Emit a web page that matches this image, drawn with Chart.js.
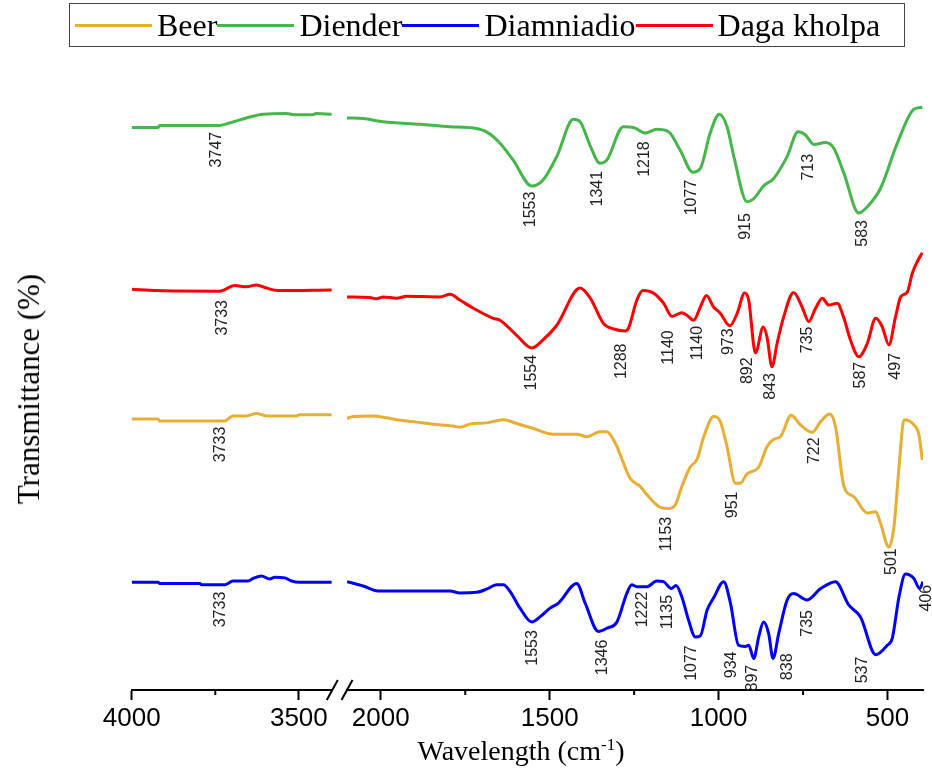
<!DOCTYPE html>
<html>
<head>
<meta charset="utf-8">
<title>FTIR spectra</title>
<script src="https://cdn.jsdelivr.net/npm/chart.js@4.4.1/dist/chart.umd.min.js"></script>
<style>
  html, body { margin: 0; padding: 0; background: #fff; }
  #wrap { position: relative; width: 932px; height: 776px; overflow: hidden; }
  #wrap canvas { position: absolute; left: 0; top: 0; }
  #legend {
    position: absolute; left: 69px; top: 3px; width: 836px; height: 44px;
    box-sizing: border-box; border: 1.5px solid #444;
    display: flex; align-items: center; padding-left: 5px;
    font: 32px "Liberation Serif", "Times New Roman", serif; line-height: 1;
    color: #000; white-space: nowrap;
  }
  #legend .sw { display: inline-block; width: 77px; height: 3px; margin-right: 5px; }
  #ytitle {
    position: absolute; left: 29px; top: 389px;
    transform: translate(-50%, -50%) rotate(-90deg);
    font: 31px "Liberation Serif", "Times New Roman", serif; white-space: nowrap;
  }
  #xtitle {
    position: absolute; left: 521px; top: 751px; transform: translate(-50%, -50%);
    font: 28px "Liberation Serif", "Times New Roman", serif; white-space: nowrap;
  }
  #xtitle sup { font-size: 17px; line-height: 0; vertical-align: 10px; }
</style>
</head>
<body>
<div id="wrap">
  <canvas id="leftChart" width="932" height="776"></canvas>
  <canvas id="rightChart" width="932" height="776"></canvas>
  <div id="legend"></div>
  <div id="ytitle">Transmittance (%)</div>
  <div id="xtitle">Wavelength (cm<sup>-1</sup>)</div>
</div>
<script>
  "use strict";

  // series, in legend order
  const seriesNames = ["Beer", "Diender", "Diamniadio", "Daga kholpa"];
  const seriesColors = ["#E8AD33", "#45B649", "#0000FF", "#FF0000"];

  // x axis: broken at 3400 / 2100 cm-1
  const leftRange = [3400, 4000];
  const rightRange = [395, 2100];
  const majorTicks = [4000, 3500, 2000, 1500, 1000, 500];
  const minorTicks = [3750, 1750, 1250, 750];

  // Beer (offset transmittance)
  const beerWn = [4000, 3921, 3916, 3722, 3697, 3657, 3627, 3597, 3508, 3498, 3402,
    2100, 2082, 2023, 1983, 1953, 1904, 1845, 1786, 1766, 1736, 1687, 1637, 1598, 1548, 1489,
    1420, 1390, 1351, 1331, 1306, 1262, 1232, 1212, 1173, 1148, 1128, 1109, 1084, 1064, 1044,
    1015, 995, 975, 950, 936, 916, 881, 857, 837, 817, 785, 758, 723, 698, 671, 654, 629, 600,
    560, 535, 521, 496, 481, 466, 451, 422, 407, 397];
  const beerT = [43.0, 43.0, 42.7, 42.7, 43.5, 43.5, 43.9, 43.5, 43.5, 43.7, 43.7,
    43.1, 43.4, 43.5, 43.2, 42.9, 42.6, 42.2, 41.9, 41.7, 42.2, 42.4, 42.9, 42.3, 41.5, 40.6,
    40.6, 40.2, 41.0, 41.0, 39.2, 33.6, 32.3, 31.0, 29.0, 28.8, 29.4, 32.3, 35.4, 36.6, 40.2,
    43.4, 42.6, 38.6, 32.8, 32.8, 34.3, 35.4, 38.6, 39.8, 40.2, 43.6, 42.1, 40.9, 42.6, 43.8, 41.8, 32.3, 30.7,
    28.1, 28.3, 26.5, 22.7, 25.9, 35.4, 42.9, 42.1, 40.5, 36.5];

  // Diender
  const dienderWn = [4000, 3921, 3916, 3742, 3707, 3657, 3607, 3538, 3508, 3459, 3448, 3402,
    2100, 2052, 1993, 1884, 1795, 1726, 1687, 1647, 1608, 1553, 1519, 1479, 1430, 1410, 1381,
    1351, 1331, 1282, 1252, 1217, 1183, 1148, 1114, 1076, 1054, 1025, 998, 975, 955, 916, 896,
    867, 837, 797, 765, 743, 718, 684, 659, 629, 585, 560, 521, 471, 422, 397];
  const dienderT = [89.3, 89.3, 89.6, 89.6, 90.0, 90.8, 91.4, 91.5, 91.3, 91.3, 91.5, 91.4,
    90.8, 90.7, 90.2, 89.8, 89.4, 89.2, 88.6, 86.8, 84.1, 80.0, 81.0, 84.7, 90.6, 90.2, 86.5,
    83.6, 84.1, 89.4, 89.3, 88.4, 89.0, 88.6, 85.7, 82.2, 82.8, 88.4, 91.4, 89.4, 84.7, 77.5, 78.0,
    80.0, 81.2, 84.7, 88.6, 88.1, 86.6, 86.9, 86.0, 82.0, 75.7, 76.7, 79.6, 86.8, 92.2, 92.5];

  // Diamniadio
  const diamniadioWn = [4000, 3921, 3916, 3796, 3791, 3722, 3697, 3652, 3637, 3612, 3587, 3572, 3542, 3522, 3498, 3402,
    2100, 2052, 2008, 1795, 1766, 1716, 1687, 1657, 1637, 1618, 1588, 1553, 1529, 1499, 1474,
    1420, 1395, 1356, 1331, 1301, 1272, 1257, 1242, 1212, 1183, 1163, 1140, 1126, 1109, 1089,
    1069, 1054, 1034, 1015, 985, 965, 941, 921, 911, 896, 881, 867, 852, 839, 822, 797, 778,
    738, 698, 654, 615, 580, 535, 501, 486, 466, 447, 422, 405, 395];
  const diamniadioT = [17.1, 17.1, 16.9, 16.9, 16.7, 16.7, 17.3, 17.3, 17.7, 18.1, 17.6, 17.9, 17.8, 17.3, 17.1, 17.1,
    17.2, 16.5, 15.7, 15.7, 15.4, 15.5, 16.0, 16.7, 16.7, 15.7, 13.0, 10.8, 11.6, 13.0, 13.8,
    16.9, 13.8, 9.3, 9.8, 10.8, 15.3, 16.7, 16.4, 16.4, 17.3, 17.2, 16.1, 16.6, 14.8, 11.1,
    8.4, 8.6, 12.7, 14.6, 17.2, 13.8, 7.1, 6.9, 7.1, 5.0, 8.5, 10.8, 9.0, 5.0, 9.0, 14.3, 15.3,
    14.3, 16.1, 17.2, 13.5, 11.6, 5.6, 7.1, 8.2, 14.8, 18.4, 17.7, 16.1, 17.2];

  // Daga kholpa
  const dagaWn = [4000, 3925, 3737, 3692, 3657, 3627, 3597, 3563, 3402,
    2100, 2033, 2013, 1993, 1953, 1924, 1825, 1795, 1766, 1726, 1667, 1647, 1598, 1553, 1519,
    1479, 1410, 1380, 1341, 1311, 1277, 1267, 1242, 1224, 1193, 1163, 1138, 1109, 1094, 1074,
    1054, 1036, 1015, 995, 967, 945, 923, 911, 891, 868, 857, 842, 827, 807, 778, 753, 733,
    713, 693, 674, 649, 629, 610, 585, 560, 535, 516, 496, 476, 461, 441, 427, 412, 397];
  const dagaT = [63.6, 63.4, 63.3, 64.2, 64.0, 64.3, 63.8, 63.4, 63.5,
    62.4, 62.3, 62.1, 62.4, 62.2, 62.5, 62.4, 62.8, 61.9, 60.6, 59.0, 58.7, 56.3, 54.3, 55.6,
    57.9, 63.8, 62.2, 58.2, 57.3, 57.0, 57.4, 61.9, 63.4, 63.0, 61.4, 59.3, 59.9, 59.5, 58.7,
    60.8, 62.6, 60.8, 59.8, 57.8, 59.8, 63.0, 61.9, 53.5, 57.6, 56.1, 51.3, 55.0, 59.3, 63.1, 60.8, 58.5,
    60.6, 62.2, 61.1, 61.4, 59.0, 55.6, 52.9, 55.0, 59.0, 57.7, 54.8, 59.3, 62.4, 63.2, 66.1, 68.0, 69.4];

  // peak labels: text, anchor wavenumber, top of the text (same units as the traces)
  const beerPeaks = ["3733", "1153", "951", "722", "501"];
  const beerPeakWn = [3734, 1154, 958, 715, 488];
  const beerPeakT = [41.8, 27.5, 31.5, 40.1, 22.5];

  const dienderPeaks = ["3747", "1553", "1341", "1218", "1077", "915", "713", "583"];
  const dienderPeakWn = [3745, 1556, 1357, 1218, 1079, 919, 734, 575];
  const dienderPeakT = [88.6, 79.1, 82.4, 87.1, 81.0, 75.7, 85.1, 74.6];

  const diamniadioPeaks = ["3733", "1553", "1346", "1222", "1135", "1077", "934", "897", "838", "735", "537", "406"];
  const diamniadioPeakWn = [3734, 1551, 1344, 1225, 1152, 1079, 963, 899, 795, 737, 573, 385];
  const diamniadioPeakT = [15.6, 9.5, 8.0, 15.6, 15.1, 7.1, 6.1, 4.0, 5.8, 12.7, 5.3, 16.7];

  const dagaPeaks = ["3733", "1554", "1288", "1140", "1140", "973", "892", "843", "735", "587", "497"];
  const dagaPeakWn = [3727, 1555, 1286, 1148, 1062, 970, 915, 847, 737, 579, 475];
  const dagaPeakT = [61.9, 53.2, 55.0, 57.1, 57.8, 57.4, 52.8, 50.3, 57.7, 52.1, 53.5];

  const seriesWn = [beerWn, dienderWn, diamniadioWn, dagaWn];
  const seriesT = [beerT, dienderT, diamniadioT, dagaT];
  const peakSets = [
    [beerPeaks, beerPeakWn, beerPeakT],
    [dienderPeaks, dienderPeakWn, dienderPeakT],
    [diamniadioPeaks, diamniadioPeakWn, diamniadioPeakT],
    [dagaPeaks, dagaPeakWn, dagaPeakT],
  ];

  const SANS = '"Liberation Sans", Arial, sans-serif';

  // legend (shared by both halves)
  const legend = document.getElementById("legend");
  seriesNames.forEach((name, i) => {
    const sw = document.createElement("span");
    sw.className = "sw";
    sw.style.background = seriesColors[i];
    legend.appendChild(sw);
    const txt = document.createElement("span");
    txt.textContent = name;
    legend.appendChild(txt);
  });

  // rotated peak labels + minor ticks + axis break
  const extrasPlugin = {
    id: "extras",
    afterDatasetsDraw(chart, args, opts) {
      const { ctx, scales: { x, y } } = chart;
      ctx.save();
      ctx.fillStyle = "#222";
      ctx.font = "16px " + SANS;
      ctx.textAlign = "right";
      ctx.textBaseline = "middle";
      peakSets.forEach(([labels, wn, t]) => {
        labels.forEach((lab, k) => {
          const onLeft = wn[k] > 3000;
          if (onLeft !== (opts.side === "left")) return;
          ctx.save();
          ctx.translate(x.getPixelForValue(wn[k]), y.getPixelForValue(t[k]));
          ctx.rotate(-Math.PI / 2);
          ctx.fillText(lab, 0, 0);
          ctx.restore();
        });
      });
      ctx.restore();
    },
    afterDraw(chart, args, opts) {
      const { ctx, scales: { x }, chartArea } = chart;
      const base = chartArea.bottom;
      ctx.save();
      ctx.strokeStyle = "#000";
      ctx.lineWidth = 2;
      minorTicks
        .filter((v) => v >= x.min && v <= x.max)
        .forEach((v) => {
          const px = x.getPixelForValue(v);
          ctx.beginPath();
          ctx.moveTo(px, base);
          ctx.lineTo(px, base + 5);
          ctx.stroke();
        });
      // break mark at the cut end of this half
      const bx = opts.side === "left" ? chartArea.right : chartArea.left;
      ctx.beginPath();
      ctx.moveTo(bx - 5.5, base + 10);
      ctx.lineTo(bx + 5.5, base - 10);
      ctx.stroke();
      ctx.restore();
    },
  };

  function makeChart(id, range, side, padLeft, padRight) {
    const [lo, hi] = range;
    const datasets = seriesNames.map((name, i) => ({
      label: name,
      data: seriesWn[i]
        .map((w, j) => ({ x: w, y: seriesT[i][j] }))
        .filter((p) => p.x >= lo && p.x <= hi),
      borderColor: seriesColors[i],
      borderWidth: 3,
      pointRadius: 0,
      fill: false,
      cubicInterpolationMode: "monotone",
    }));

    return new Chart(document.getElementById(id), {
      type: "line",
      data: { datasets: datasets },
      plugins: [extrasPlugin],
      options: {
        responsive: false,
        animation: false,
        devicePixelRatio: 1,
        layout: { padding: { top: 60, bottom: 0, left: padLeft, right: padRight } },
        plugins: {
          legend: { display: false },
          tooltip: { enabled: false },
          extras: { side: side },
        },
        scales: {
          x: {
            type: "linear",
            reverse: true,
            min: lo,
            max: hi,
            afterBuildTicks: (scale) => {
              scale.ticks = majorTicks
                .filter((v) => v >= lo && v <= hi)
                .map((v) => ({ value: v }));
            },
            afterFit: (scale) => {
              scale.height = 86;
            },
            border: { display: true, color: "#000", width: 2 },
            grid: {
              display: true,
              drawOnChartArea: false,
              drawTicks: true,
              tickLength: 10,
              tickWidth: 2,
              tickColor: "#000",
            },
            ticks: {
              autoSkip: false,
              maxRotation: 0,
              minRotation: 0,
              padding: 3,
              color: "#000",
              font: { family: SANS, size: 26 },
              callback: (v) => String(v),
            },
          },
          y: { display: false, min: 0, max: 100 },
        },
      },
    });
  }

  makeChart("leftChart", leftRange, "left", 131.7, 932 - 332.3);
  makeChart("rightChart", rightRange, "right", 347, 932 - 923);
</script>
</body>
</html>
